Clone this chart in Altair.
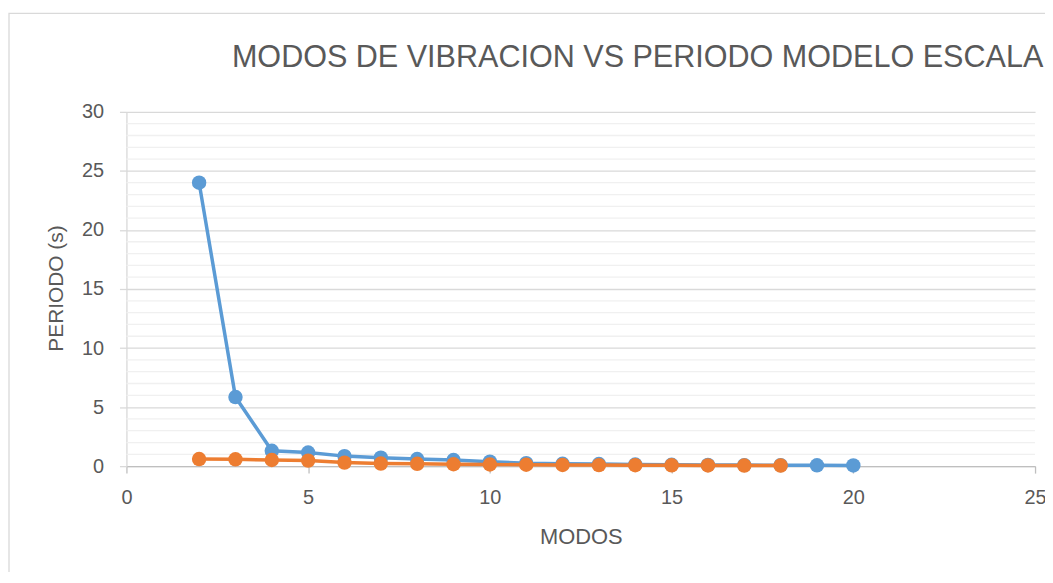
import altair as alt
import pandas as pd

# ---- data ----
modos_serie1 = [2, 3, 4, 5, 6, 7, 8, 9, 10, 11, 12, 13, 14, 15, 16, 17, 18, 19, 20]
periodo_serie1 = [24.0, 5.85, 1.3, 1.15, 0.85, 0.72, 0.6, 0.52, 0.38, 0.25, 0.2, 0.18,
                  0.14, 0.12, 0.1, 0.09, 0.08, 0.07, 0.06]
modos_serie2 = [2, 3, 4, 5, 6, 7, 8, 9, 10, 11, 12, 13, 14, 15, 16, 17, 18]
periodo_serie2 = [0.6, 0.58, 0.52, 0.47, 0.3, 0.22, 0.2, 0.16, 0.14, 0.12, 0.1, 0.09,
                  0.08, 0.07, 0.06, 0.05, 0.05]
x_ticks = [0, 5, 10, 15, 20, 25]
y_ticks = [0, 5, 10, 15, 20, 25, 30]
y_minor = [1, 2, 3, 4, 6, 7, 8, 9, 11, 12, 13, 14, 16, 17, 18, 19,
           21, 22, 23, 24, 26, 27, 28, 29]
title_text = "MODOS DE VIBRACION VS PERIODO MODELO ESCALA"
x_title = "MODOS"
y_title = "PERIODO (s)"

BLUE = "#5B9BD5"
ORANGE = "#ED7D31"
TXT = "#595959"
FONT = "Liberation Sans"

W, H = 913, 356

df1 = pd.DataFrame({"modo": modos_serie1, "periodo": periodo_serie1})
df2 = pd.DataFrame({"modo": modos_serie2, "periodo": periodo_serie2})
df_minor = pd.DataFrame({"periodo": y_minor})
df_one = pd.DataFrame({"a": [0]})

x_scale = alt.Scale(domain=[0, 25], nice=False, zero=False)
y_scale = alt.Scale(domain=[0, 30], nice=False)

x_axis = alt.Axis(
    values=x_ticks, grid=False,
    domainColor="#bfbfbf", domainWidth=1.3,
    tickColor="#bfbfbf", tickSize=7, tickWidth=1.3,
    labelFont=FONT, labelFontSize=20, labelColor=TXT, labelPadding=15,
    labelFlush=False,
    title=x_title, titleFont=FONT, titleFontSize=22, titleColor=TXT,
    titleFontWeight="normal", titleX=W / 2, titleY=78,
    titleBaseline="alphabetic", titleAlign="center",
)
y_axis = alt.Axis(
    values=y_ticks, grid=True, gridColor="#d9d9d9", gridWidth=1.3,
    domainColor="#d9d9d9", domainWidth=1.3,
    tickColor="#d9d9d9", tickSize=7, tickWidth=1.3,
    labelFont=FONT, labelFontSize=20, labelColor=TXT, labelPadding=16,
    title=y_title, titleFont=FONT, titleFontSize=21, titleColor=TXT,
    titleFontWeight="normal", titleAngle=270, titleX=-64, titleY=177,
    titleBaseline="alphabetic", titleAlign="center",
)

border = alt.Chart(df_one).mark_rect(
    fillOpacity=0, stroke="#d9d9d9", strokeWidth=1.3
).encode(
    x=alt.value(-118), x2=alt.value(W + 100),
    y=alt.value(-99), y2=alt.value(H + 300),
)

minor = alt.Chart(df_minor).mark_rule(color="#f0f0f0", strokeWidth=1.3).encode(
    y=alt.Y("periodo:Q", scale=y_scale, axis=y_axis)
)

def series(df, color):
    base = alt.Chart(df).encode(
        x=alt.X("modo:Q", scale=x_scale, axis=x_axis),
        y=alt.Y("periodo:Q", scale=y_scale, axis=y_axis),
    )
    line = base.mark_line(color=color, strokeWidth=3.5)
    pts = base.mark_circle(color=color, size=210, opacity=1)
    return line + pts

title = alt.Chart(df_one).mark_text(
    text=title_text, align="left", baseline="alphabetic",
    font=FONT, fontSize=30.7, color=TXT,
).encode(x=alt.value(106), y=alt.value(-45.3))

chart = alt.layer(
    border, minor, series(df1, BLUE), series(df2, ORANGE), title
).properties(
    width=W, height=H,
    autosize=alt.AutoSizeParams(type="none"),
    padding={"left": 119, "top": 103, "right": 10, "bottom": 105},
    background="white",
).configure_view(stroke=None)

chart.save("out.html", embed_options={"renderer": "svg", "actions": False})
